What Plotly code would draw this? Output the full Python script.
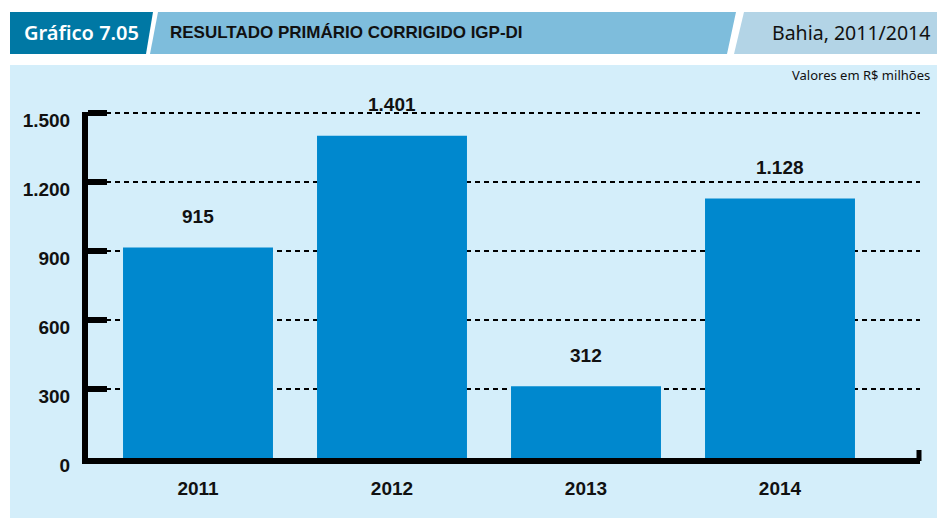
import plotly.graph_objects as go

# ---- data ----
years = ["2011", "2012", "2013", "2014"]
values = [915, 1401, 312, 1128]
y_ticks = [0, 300, 600, 900, 1200, 1500]
y_tick_labels = ["0", "300", "600", "900", "1.200", "1.500"]
chart_label = "Gráfico 7.05"
title = "RESULTADO PRIMÁRIO CORRIGIDO IGP-DI"
place = "Bahia, 2011/2014"
unit_note = "Valores em R$ milhões"

W, H = 937, 518
BAR = "#0088CE"
BG = "#D4EEFA"
DARK = "#0078A4"
MID = "#7EBDDC"
LIGHT = "#B3D4E6"
FONT = "Liberation Sans Narrow, Liberation Sans, Arial, sans-serif"
FS = 19


def px(x):
    return x / W


def py(y):
    return 1 - y / H


xs = list(range(len(years)))

fig = go.Figure()
fig.add_trace(go.Bar(
    x=xs, y=values, width=0.773, marker=dict(color=BAR, line=dict(width=0)),
    hoverinfo="skip", cliponaxis=False,
))

for x, v in zip(xs, values):
    fig.add_annotation(
        x=x, y=v, xref="x", yref="y", text=f"{v:,}".replace(",", "."),
        showarrow=False, yanchor="middle", yshift=31,
        font=dict(family=FONT, size=FS, color="#111111", weight="bold"),
    )


def poly(points, color):
    path = "M " + " L ".join(f"{px(a)},{py(b)}" for a, b in points) + " Z"
    return dict(type="path", path=path, xref="paper", yref="paper",
                fillcolor=color, line=dict(width=0), layer="below")


shapes = [
    # chart background
    dict(type="rect", xref="paper", yref="paper", x0=px(10), x1=px(937),
         y0=py(518), y1=py(65), fillcolor=BG, line=dict(width=0), layer="below"),
    poly([(10, 12), (153, 12), (146, 54), (10, 54)], DARK),
    poly([(158, 12), (736, 12), (727, 54), (150, 54)], MID),
    poly([(744, 12), (937, 12), (937, 54), (734, 54)], LIGHT),
    # small end tick on x axis
    dict(type="line", xref="paper", yref="paper", x0=px(919), x1=px(919),
         y0=py(461), y1=py(450), line=dict(color="black", width=5), layer="above"),
]

fig.add_annotation(x=px(81), y=py(33), xref="paper", yref="paper", text=chart_label,
                   showarrow=False, xanchor="center", yanchor="middle",
                   font=dict(family="Noto Sans, sans-serif", size=20, color="white", weight=600))
fig.add_annotation(x=px(168), y=py(33), xref="paper", yref="paper", text=title,
                   showarrow=False, xanchor="left", yanchor="middle",
                   font=dict(family="Liberation Sans, Arial, sans-serif", size=17, color="#111111", weight="bold"))
fig.add_annotation(x=px(932), y=py(33), xref="paper", yref="paper", text=place,
                   showarrow=False, xanchor="right", yanchor="middle",
                   font=dict(family="Noto Sans, sans-serif", size=19.5, color="#111111"))
fig.add_annotation(x=px(932), y=py(75), xref="paper", yref="paper", text=unit_note,
                   showarrow=False, xanchor="right", yanchor="middle",
                   font=dict(family="Noto Sans, sans-serif", size=13, color="#111111"))

left, right = 88, 920
center0, step = 198, 194
y_bottom_px, px_per_unit = 458, 0.23
y_top_val = 1506
fig.update_layout(
    width=W, height=H, autosize=False,
    margin=dict(l=0, r=0, t=0, b=0, autoexpand=False),
    paper_bgcolor="white", plot_bgcolor="rgba(0,0,0,0)",
    showlegend=False, shapes=shapes,
    xaxis=dict(
        domain=[px(left), px(right)],
        range=[(left - center0) / step, (right - center0) / step],
        tickmode="array", tickvals=xs, ticktext=years,
        showgrid=False, zeroline=False, automargin=False,
        showline=True, linecolor="black", linewidth=6,
        ticks="", ticklabelstandoff=8,
        tickfont=dict(family=FONT, size=FS, color="#111111", weight="bold"),
        fixedrange=True,
    ),
    yaxis=dict(
        domain=[py(y_bottom_px), py(y_bottom_px - y_top_val * px_per_unit)],
        range=[0, y_top_val],
        tickmode="array", tickvals=y_ticks, ticktext=y_tick_labels,
        showgrid=True, gridcolor="black", gridwidth=1.6, griddash="5px,4px",
        zeroline=False, automargin=False,
        showline=True, linecolor="black", linewidth=6,
        ticks="inside", ticklen=19, tickwidth=6, tickcolor="black",
        ticklabelstandoff=8, ticklabelshift=7,
        tickfont=dict(family=FONT, size=FS, color="#111111", weight="bold"),
        fixedrange=True,
    ),
)

fig.write_html("out.html", config={"displayModeBar": False},
               post_script="document.body.style.margin='0px';")
